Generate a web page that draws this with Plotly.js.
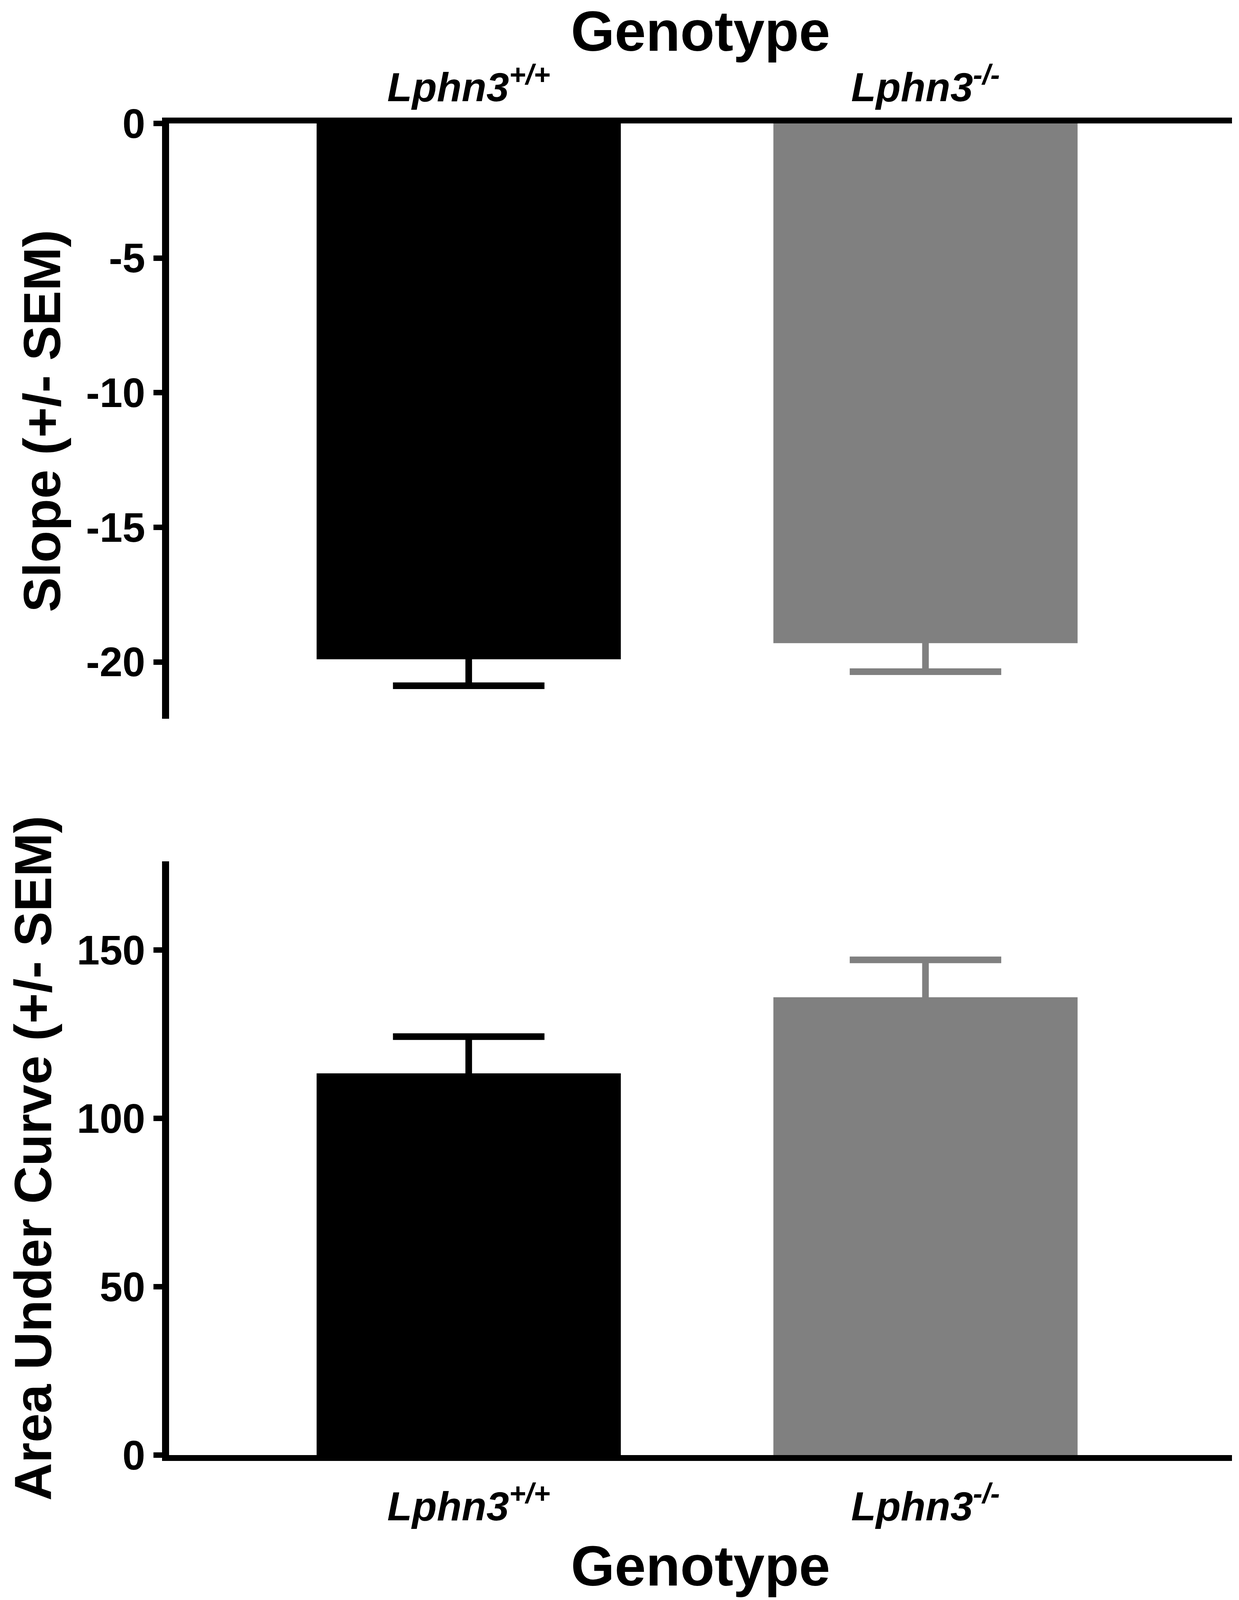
<!DOCTYPE html>
<html>
<head>
<meta charset="utf-8">
<script src="https://cdn.plot.ly/plotly-3.0.1.min.js"></script>
<style>
  html, body { margin: 0; padding: 0; background: #fff; overflow: hidden; }
</style>
</head>
<body>
<div id="chart"></div>
<script>
// genotypes (x categories)
var genotypes = ["wt", "ko"];
var genotypeLabels = ["<i>Lphn3<sup>+/+</sup></i>", "<i>Lphn3<sup>-/-</sup></i>"];
var barColors = ["#000000", "#808080"];

// top panel: slope
var slopeMean = [-19.9, -19.3];
var slopeSem = [0.98, 1.06];

// bottom panel: area under curve
var aucMean = [113.4, 136.0];
var aucSem = [10.9, 11.1];

var slopeTicks = [0, -5, -10, -15, -20];
var slopeTickText = ["0", "-5", "-10", "-15", "-20"];
var aucTicks = [0, 50, 100, 150];

var FONT = "Liberation Sans, Arial, sans-serif";

// figure is 3173 x 4901, but the window may be shorter -> squeeze vertically
var W = 3173;
var H = Math.min(window.innerHeight || 4901, 4901);
var sy = H / 4901;
var sf = Math.sqrt(sy);
document.getElementById("chart").style.width = W + "px";
document.getElementById("chart").style.height = H + "px";

function barPair(i, yv, sem, xa, ya){
    // invisible bar that only carries a symmetric error bar,
    // then the real bar on top hides the inner half
    var errBar = {
        type: "bar", x: [genotypes[i]], y: [yv], width: [0.666],
        marker: {color: "rgba(0,0,0,0)", line: {width: 0}},
        error_y: {type: "data", array: [sem], color: barColors[i], thickness: 17, width: 194},
        xaxis: xa, yaxis: ya, showlegend: false, hoverinfo: "skip"
    };
    var bar = {
        type: "bar", x: [genotypes[i]], y: [yv], width: [0.666],
        marker: {color: barColors[i], line: {width: 0}},
        xaxis: xa, yaxis: ya, showlegend: false, hoverinfo: "skip"
    };
    return [errBar, bar];
}

var data = [];
genotypes.forEach(function(g, i){
    data = data.concat(barPair(i, slopeMean[i], slopeSem[i], "x", "y"));
    data = data.concat(barPair(i, aucMean[i], aucSem[i], "x2", "y2"));
});

var tickFont = {family: FONT, size: Math.round(115 * sf), color: "#000", weight: "bold"};
var catFont = {family: FONT, size: Math.round(114 * sf), color: "#000", weight: "bold"};
var xTitleFont = {family: FONT, size: Math.round(158 * sf), color: "#000", weight: "bold"};
var yTitleFont = {family: FONT, size: Math.round(160 * sy), color: "#000", weight: "bold"};

var xLine = Math.round(18 * sy);

var layout = {
    width: W,
    height: H,
    margin: {l: 433, r: 18, t: 0, b: 0},
    paper_bgcolor: "#fff",
    plot_bgcolor: "rgba(0,0,0,0)",
    barmode: "overlay",
    xaxis: {
        domain: [0, 1],
        anchor: "y",
        side: "top",
        type: "category",
        range: [-0.656, 1.671],
        tickvals: genotypes,
        ticktext: genotypeLabels,
        tickfont: catFont,
        ticks: "",
        showline: true, linewidth: xLine, linecolor: "#000",
        showgrid: false, zeroline: false,
        title: {text: "Genotype", font: xTitleFont, standoff: Math.round(40 * sy)}
    },
    yaxis: {
        domain: [0.5509, 0.9229],
        anchor: "x",
        range: [-22.1, 0],
        tickvals: slopeTicks,
        ticktext: slopeTickText,
        tickfont: tickFont,
        ticks: "outside", ticklen: 22, tickwidth: Math.round(17 * sy), tickcolor: "#000",
        showline: true, linewidth: 18, linecolor: "#000",
        showgrid: false, zeroline: false,
        title: {text: "Slope (+/- SEM)", font: yTitleFont, standoff: 28}
    },
    xaxis2: {
        domain: [0, 1],
        anchor: "y2",
        side: "bottom",
        type: "category",
        range: [-0.656, 1.671],
        tickvals: genotypes,
        ticktext: genotypeLabels,
        tickfont: catFont,
        ticks: "",
        ticklabelstandoff: Math.round(32 * sy),
        showline: true, linewidth: xLine, linecolor: "#000",
        showgrid: false, zeroline: false,
        title: {text: "Genotype", font: xTitleFont, standoff: Math.round(62 * sy)}
    },
    yaxis2: {
        domain: [0.0906, 0.4617],
        anchor: "x2",
        range: [0, 176.4],
        tickvals: aucTicks,
        tickfont: tickFont,
        ticks: "outside", ticklen: 22, tickwidth: Math.round(17 * sy), tickcolor: "#000",
        showline: true, linewidth: 18, linecolor: "#000",
        showgrid: false, zeroline: false,
        title: {text: "Area Under Curve (+/- SEM)", font: yTitleFont, standoff: 28}
    }
};

Plotly.newPlot("chart", data, layout, {displayModeBar: false, staticPlot: true});
</script>
</body>
</html>
